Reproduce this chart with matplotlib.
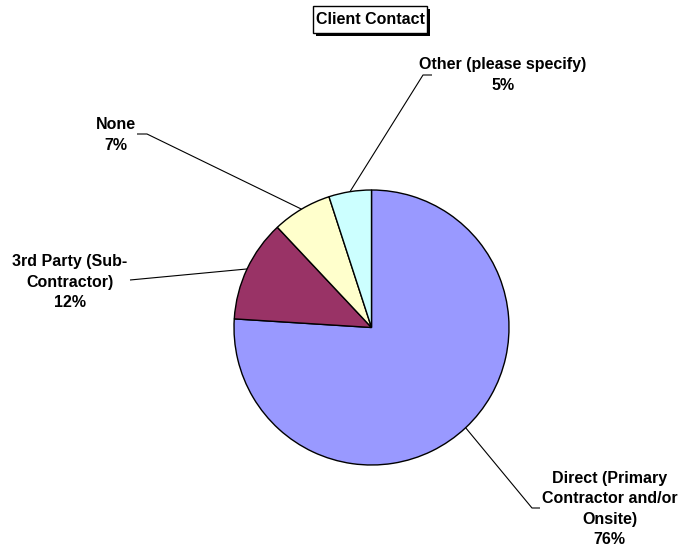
import matplotlib.pyplot as plt
from matplotlib.patches import Rectangle
import numpy as np

# Client contact breakdown (percent of responses)
categories = ['Direct (Primary\nContractor and/or\nOnsite)',
              '3rd Party (Sub-\nContractor)',
              'None',
              'Other (please specify)']
shares = [76, 12, 7, 5]
colors = ['#9999FF', '#993366', '#FFFFCC', '#CCFFFF']

W, H = 680, 554

# label centre, then the leader line's bend / end point (pixel coords, y down)
label_xy = [(609.5, 509), (70, 282), (116, 135), (503, 75)]
leader_pts = [[(532, 508), (540, 508)],
              [(130, 280)],
              [(147, 134), (137, 134)],
              [(423, 75), (432, 75)]]

FONT = 'Liberation Sans'


def main():
    fig = plt.figure(figsize=(W / 100, H / 100), dpi=100)
    ax = fig.add_axes([0, 0, 1, 1])

    cx, cy, r = 371.5, H - 327.5, 137.5
    wedges, _ = ax.pie(shares, colors=colors, startangle=90, counterclock=False,
                       center=(cx, cy), radius=r, frame=True,
                       wedgeprops=dict(edgecolor='black', linewidth=1.0))
    ax.set_xlim(0, W)
    ax.set_ylim(0, H)
    ax.set_aspect('equal')
    ax.axis('off')

    for w, name, val, (tx, ty), pts in zip(wedges, categories, shares,
                                           label_xy, leader_pts):
        mid = np.deg2rad((w.theta1 + w.theta2) / 2)
        xs = [cx + r * np.cos(mid)] + [p[0] for p in pts]
        ys = [cy + r * np.sin(mid)] + [H - p[1] for p in pts]
        ax.plot(xs, ys, color='black', lw=0.8, solid_capstyle='butt')
        ax.text(tx, H - ty, f'{name}\n{val}%', ha='center', va='center',
                multialignment='center', fontsize=11.5, fontweight='bold',
                family=FONT, linespacing=1.45)

    # title in a framed box with a drop shadow
    bx, by, bw, bh = 313, 6, 114, 27
    ax.add_patch(Rectangle((bx + 3, H - by - bh - 3), bw, bh,
                           facecolor='black', edgecolor='none', zorder=3))
    ax.add_patch(Rectangle((bx, H - by - bh), bw, bh, facecolor='white',
                           edgecolor='black', linewidth=1.0, zorder=4))
    ax.text(bx + bw / 2, H - by - bh / 2, 'Client Contact', ha='center',
            va='center', fontsize=11.5, fontweight='bold', family=FONT,
            zorder=5)

    fig.savefig('out.png', dpi=100)


if __name__ == '__main__':
    main()
